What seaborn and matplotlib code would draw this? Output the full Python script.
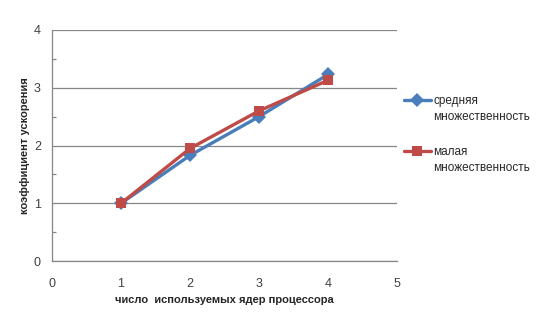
import matplotlib
matplotlib.use("Agg")
import matplotlib.pyplot as plt
import seaborn as sns
import pandas as pd
from matplotlib.ticker import MultipleLocator

cores = [1, 2, 3, 4]
medium = [1.0, 1.83, 2.50, 3.23]
small = [1.0, 1.95, 2.60, 3.13]
series_first = ["средняя", "малая"]
series_second = ["множественность", "множественность"]
x_label = "число  используемых ядер процессора"
y_label = "коэффициент ускорения"

df = pd.concat([
    pd.DataFrame({"x": cores, "y": medium, "s": series_first[0]}),
    pd.DataFrame({"x": cores, "y": small, "s": series_first[1]}),
])

sns.set_style("white")
plt.rcParams['font.family'] = ['Liberation Sans', 'DejaVu Sans']

fig = plt.figure(figsize=(5.4, 3.22), dpi=100)
ax = fig.add_axes([0.0963, 0.189, 0.639, 0.718])

palette = {series_first[0]: "#4A7EBB", series_first[1]: "#BE4B48"}
markers = {series_first[0]: "D", series_first[1]: "s"}
sns.lineplot(data=df, x="x", y="y", hue="s", style="s", palette=palette,
             markers=markers, dashes=False, linewidth=2.4, markersize=7,
             markeredgewidth=0, ax=ax)

ax.set_xlim(0, 5)
ax.set_ylim(0, 4)
ax.set_xticks([0, 1, 2, 3, 4, 5])
ax.set_yticks([0, 1, 2, 3, 4])
ax.yaxis.set_minor_locator(MultipleLocator(0.5))
ax.grid(axis="y", which="major", color="#878787", linewidth=0.9)
ax.set_axisbelow(True)
for sp in ["top", "right"]:
    ax.spines[sp].set_visible(False)
for sp in ["left", "bottom"]:
    ax.spines[sp].set_color("#878787")
    ax.spines[sp].set_linewidth(0.9)
ax.tick_params(axis="both", which="both", color="#878787",
               labelsize=9, labelcolor="#404040", width=0.9)
ax.tick_params(axis="y", which="major", direction="out", length=4, pad=4)
ax.tick_params(axis="y", which="minor", direction="in", length=3, left=True)
ax.tick_params(axis="x", which="major", direction="out", length=4, pad=8)

ax.set_xlabel(x_label, fontsize=8, fontweight="bold", labelpad=4)
ax.set_ylabel(y_label, fontsize=8, fontweight="bold", labelpad=3)

leg = ax.legend(loc="upper left", bbox_to_anchor=(1.005, 0.74), frameon=False,
                fontsize=8.5, handlelength=2.3, labelspacing=3.3, handletextpad=0.2,
                borderaxespad=0)
for t in leg.get_texts():
    t.set_color("#262626")

fig.canvas.draw()
inv = fig.transFigure.inverted()
for t, second in zip(leg.get_texts(), series_second):
    bb = t.get_window_extent()
    x0, y0 = inv.transform((bb.x0, bb.y0 - 4))
    fig.text(x0, y0, second, ha="left", va="top", fontsize=8.5, color="#262626")

fig.savefig("out.png", dpi=100)
